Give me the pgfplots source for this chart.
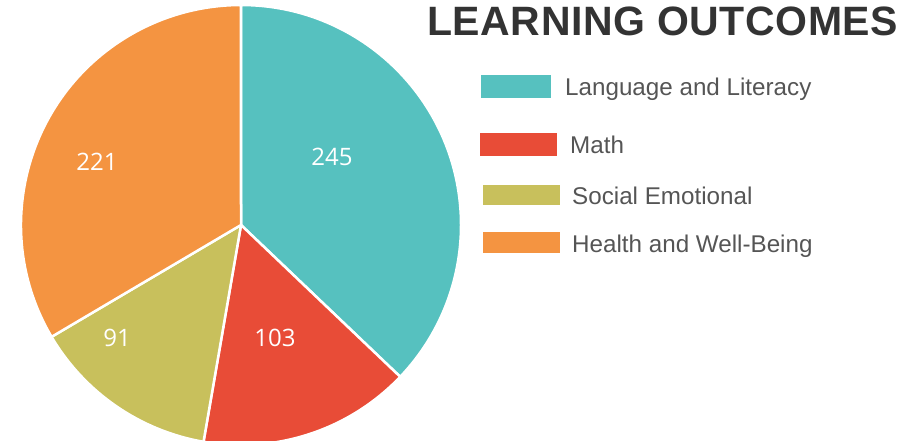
\documentclass[border=0pt]{standalone}
\usepackage{pgfplots}
\pgfplotsset{compat=1.18}
\usepackage{fontspec}
\setmainfont{Liberation Sans}
\newfontfamily\labelfam{Open Sans}
\newfontfamily\titlefam{Liberation Sans}[LetterSpace=1.4]
\definecolor{cteal}{HTML}{56C1BF}
\definecolor{cred}{HTML}{E84C37}
\definecolor{colive}{HTML}{C8C05C}
\definecolor{corange}{HTML}{F49441}
\definecolor{ctitle}{HTML}{333333}
\definecolor{clegend}{HTML}{555555}
\newcommand\lblfont{\labelfam\fontsize{24}{28}\selectfont}
\newcommand\legfont{\fontsize{24.2}{28}\selectfont}
\newcommand\ttlfont{\titlefam\bfseries\fontsize{41}{48}\selectfont}
\begin{document}
\begin{tikzpicture}
\begin{axis}[scale only axis, width=904pt, height=440pt,
  xmin=0, xmax=904, ymin=0, ymax=440, y dir=reverse, hide axis, clip=true]
\pgfmathsetmacro{\total}{245+103+91+221}
\xdef\startang{90}
\foreach \v/\c/\lx/\ly in {245/cteal/332/157, 103/cred/275/338, 91/colive/117/338, 221/corange/97/162}{
  \pgfmathsetmacro{\endang}{\startang-(\v/\total)*360}
  \edef\cmd{\noexpand\fill[\c, draw=white, line width=2.5pt, line join=round]
    (axis cs:241,225) -- ++(\startang:220pt) arc[start angle=\startang, end angle=\endang, radius=220pt] -- cycle;
    \noexpand\node[text=white, font=\noexpand\lblfont, inner sep=0pt] at (axis cs:\lx,\ly) {\v};}
  \cmd
  \xdef\startang{\endang}
}
\node[anchor=base west, inner sep=0pt, text=ctitle, font=\ttlfont] at (axis cs:427,35) {LEARNING OUTCOMES};
\fill[cteal] (axis cs:481,75) rectangle (axis cs:551,98);
\fill[cred] (axis cs:480,133) rectangle (axis cs:557,156);
\fill[colive] (axis cs:483,185) rectangle (axis cs:560,205);
\fill[corange] (axis cs:483,232) rectangle (axis cs:560,253);
\node[anchor=base west, inner sep=0pt, text=clegend, font=\legfont] at (axis cs:565,95) {Language and Literacy};
\node[anchor=base west, inner sep=0pt, text=clegend, font=\legfont] at (axis cs:570,153) {Math};
\node[anchor=base west, inner sep=0pt, text=clegend, font=\legfont] at (axis cs:572,204) {Social Emotional};
\node[anchor=base west, inner sep=0pt, text=clegend, font=\legfont] at (axis cs:572,252) {Health and Well-Being};
\end{axis}
\pgfresetboundingbox
\path (current axis.south west) rectangle (current axis.north east);
\end{tikzpicture}
\end{document}
